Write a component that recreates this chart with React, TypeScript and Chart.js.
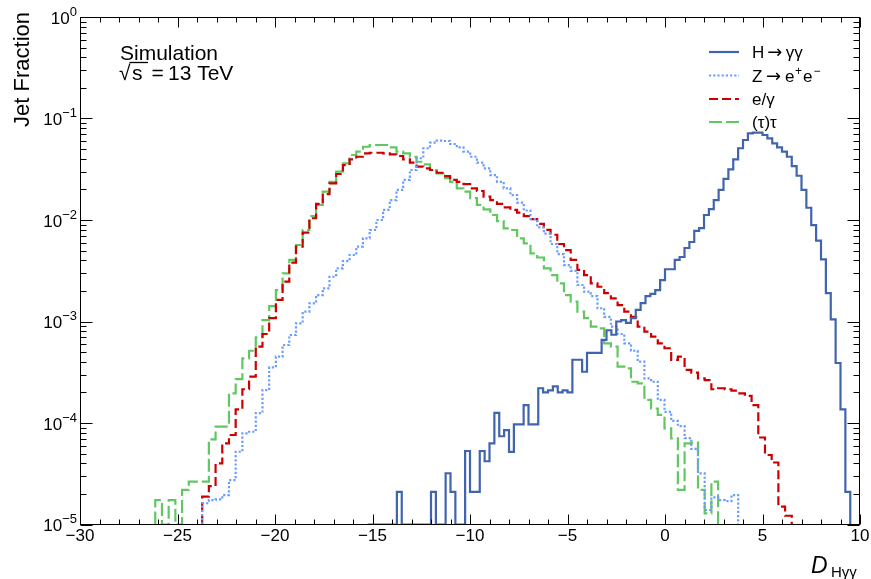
import React, { useEffect, useRef } from "react";
import { Chart, registerables } from "chart.js";

Chart.register(...registerables);

// ---------- axes ----------
const X_MIN = -30;
const X_MAX = 10;
const Y_MIN = 1e-5;
const Y_MAX = 1;
const X_TICK_VALUES = [-30, -25, -20, -15, -10, -5, 0, 5, 10];
const Y_DECADE_EXPONENTS = [0, -1, -2, -3, -4, -5];

// ---------- series ----------
const SERIES_LABELS = ["H → γγ", "Z → e⁺e⁻", "e/γ", "(τ)τ"];

// H -> gamma gamma (solid), bins of 0.25 starting at -15.25
const H_START = -15.25;
const H_WIDTH = 0.25;
const H_VALUES = [
  0, 0, 0, 0, 0, 0, 2.1e-5, 0, 0, 0, 0, 0, 0, 2.1e-5, 0, 0, 3.2e-5, 2.1e-5, 0, 0,
  5.3e-5, 2.1e-5, 2.1e-5, 5.3e-5, 4.2e-5, 6.3e-5, 1.26e-4, 7.4e-5, 8.5e-5, 5.2e-5,
  9.7e-5, 9.7e-5, 1.5e-4, 9.7e-5, 9.7e-5, 2.2e-4, 2.0e-4, 2.1e-4, 2.3e-4, 2.0e-4,
  2.1e-4, 2.0e-4, 4.2e-4, 4.2e-4, 3.2e-4, 4.9e-4, 4.9e-4, 4.9e-4, 6.6e-4, 8.2e-4,
  7.4e-4, 1.0e-3, 1.03e-3, 9.7e-4, 1.08e-3, 1.3e-3, 1.52e-3, 1.78e-3, 1.87e-3, 2.04e-3,
  2.56e-3, 3.27e-3, 3.27e-3, 4.04e-3, 4.32e-3, 5.3e-3, 6.07e-3, 7.8e-3, 8.3e-3, 1.12e-2,
  1.28e-2, 1.57e-2, 1.98e-2, 2.54e-2, 3.16e-2, 3.96e-2, 5.09e-2, 6.14e-2, 7.15e-2, 7.25e-2,
  7.25e-2, 6.88e-2, 6.38e-2, 5.7e-2, 5.2e-2, 4.71e-2, 4.2e-2, 3.4e-2, 2.73e-2, 1.98e-2,
  1.32e-2, 8.9e-3, 6.25e-3, 4.1e-3, 1.9e-3, 1.05e-3, 3.9e-4, 1.36e-4, 2.1e-5,
];

// the other three share a binning of width 0.3436
const SHARED_WIDTH = 0.3436;

// Z -> e+ e- (dotted)
const Z_START = -23.735;
const Z_VALUES = [
  1.62e-5, 1.74e-5, 1.77e-5, 1.95e-5, 2.74e-5, 5.21e-5, 7.92e-5, 8.2e-5, 1.25e-4, 2.11e-4,
  3.54e-4, 4.5e-4, 5.87e-4, 7.36e-4, 9.6e-4, 1.25e-3, 1.51e-3, 1.82e-3, 2.12e-3, 2.76e-3,
  3.34e-3, 3.94e-3, 4.52e-3, 5.46e-3, 6.6e-3, 7.97e-3, 1.0e-2, 1.26e-2, 1.57e-2, 1.98e-2,
  2.48e-2, 3.11e-2, 4.06e-2, 5.09e-2, 5.78e-2, 6.04e-2, 6.0e-2, 5.61e-2, 5.2e-2, 4.71e-2,
  4.2e-2, 3.67e-2, 3.23e-2, 2.77e-2, 2.38e-2, 2.05e-2, 1.76e-2, 1.48e-2, 1.24e-2, 1.02e-2,
  8.47e-3, 7.33e-3, 5.8e-3, 4.62e-3, 3.6e-3, 3.16e-3, 2.29e-3, 1.97e-3, 1.78e-3, 1.35e-3,
  1.11e-3, 8.89e-4, 7.53e-4, 6.1e-4, 5.15e-4, 4.02e-4, 2.75e-4, 2.55e-4, 1.69e-4, 1.29e-4,
  1.05e-4, 9.33e-5, 7.11e-5, 5.55e-5, 3.19e-5, 1.39e-5, 1.85e-5, 1.74e-5, 1.7e-5, 1.95e-5,
];

// e/gamma (short dashes)
const EG_START = -23.735;
const EG_VALUES = [
  1.88e-5, 2.39e-5, 4.01e-5, 6.3e-5, 7.62e-5, 1.36e-4, 2.15e-4, 2.86e-4, 5.65e-4, 7.53e-4,
  1.08e-3, 1.63e-3, 2.47e-3, 3.8e-3, 5.46e-3, 7.5e-3, 1.04e-2, 1.44e-2, 1.8e-2, 2.3e-2,
  2.84e-2, 3.48e-2, 3.96e-2, 4.2e-2, 4.54e-2, 4.6e-2, 4.6e-2, 4.54e-2, 4.44e-2, 4.27e-2,
  3.96e-2, 3.67e-2, 3.35e-2, 3.23e-2, 3.11e-2, 2.92e-2, 2.71e-2, 2.48e-2, 2.38e-2, 2.26e-2,
  2.05e-2, 1.93e-2, 1.7e-2, 1.57e-2, 1.44e-2, 1.33e-2, 1.26e-2, 1.18e-2, 1.09e-2, 1.02e-2,
  9.14e-3, 8.0e-3, 7.16e-3, 5.8e-3, 5.06e-3, 4.04e-3, 3.22e-3, 2.87e-3, 2.38e-3, 2.2e-3,
  1.9e-3, 1.69e-3, 1.45e-3, 1.25e-3, 1.11e-3, 8.89e-4, 7.94e-4, 7.08e-4, 6.1e-4, 5.45e-4,
  4.18e-4, 4.5e-4, 3.33e-4, 3.13e-4, 2.75e-4, 2.65e-4, 2.15e-4, 2.2e-4, 2.15e-4, 2.08e-4,
  1.96e-4, 1.85e-4, 1.5e-4, 7.2e-5, 4.84e-5, 4.08e-5, 1.5e-5, 1.22e-5,
];

// (tau) tau (long dashes)
const TAU_START = -26.14;
const TAU_VALUES = [
  1.74e-5, 0, 1.74e-5, 0, 2.19e-5, 2.64e-5, 2.64e-5, 2.64e-5, 6.9e-5, 9.2e-5,
  9.2e-5, 1.96e-4, 2.7e-4, 4.34e-4, 5.15e-4, 6.99e-4, 1.03e-3, 1.42e-3, 2.04e-3, 2.98e-3,
  4.04e-3, 5.67e-3, 7.97e-3, 1.09e-2, 1.41e-2, 1.9e-2, 2.38e-2, 2.99e-2, 3.62e-2, 4.37e-2,
  4.71e-2, 5.27e-2, 5.48e-2, 5.48e-2, 5.48e-2, 5.2e-2, 4.71e-2, 4.54e-2, 4.2e-2, 3.75e-2,
  3.54e-2, 3.11e-2, 2.88e-2, 2.58e-2, 2.38e-2, 2.05e-2, 1.9e-2, 1.64e-2, 1.41e-2, 1.27e-2,
  1.12e-2, 9.77e-3, 8.28e-3, 7.97e-3, 6.6e-3, 5.89e-3, 4.7e-3, 4.27e-3, 3.34e-3, 2.87e-3,
  2.38e-3, 1.82e-3, 1.57e-3, 1.25e-3, 1.08e-3, 8.89e-4, 8.57e-4, 6.1e-4, 5.65e-4, 3.59e-4,
  3.46e-4, 2.55e-4, 2.46e-4, 1.69e-4, 1.39e-4, 1.2e-4, 8.87e-5, 7.06e-5, 2.19e-5, 6.3e-5,
  6.4e-5, 2.19e-5, 1.29e-5, 2.64e-5,
];

// ---------- styles ----------
const COLORS = ["#4064ae", "#6b9dff", "#cc0000", "#62c662"];
const DASHES: number[][] = [[], [2.2, 2], [9, 4], [13, 4]];
const FONT = '"Liberation Sans", Arial, Helvetica, sans-serif';
const ARROW_FONT = '"DejaVu Sans", sans-serif';

// ---------- helpers ----------
function histPoints(start: number, width: number, values: number[]) {
  const floor = (v: number) => (v > 0 ? v : Y_MIN);
  const pts: { x: number; y: number }[] = [{ x: start, y: Y_MIN }];
  values.forEach((v, i) => pts.push({ x: start + i * width, y: floor(v) }));
  const end = start + values.length * width;
  pts.push({ x: end, y: floor(values[values.length - 1]) });
  pts.push({ x: end, y: Y_MIN });
  return pts;
}

type Seg = { t: string; sup?: boolean; arrow?: boolean; gap?: number };
const LEGEND_RICH: Seg[][] = [
  [{ t: "H" }, { t: "→", arrow: true, gap: 3 }, { t: "γγ", gap: 3.5 }],
  [{ t: "Z" }, { t: "→", arrow: true, gap: 3.5 }, { t: "e", gap: 4 }, { t: "+", sup: true, gap: 0.5 }, { t: "e", gap: 1 }, { t: "−", sup: true, gap: 1 }],
  [{ t: "e/γ" }],
  [{ t: "(τ)τ" }],
];

const decorPlugin = {
  id: "decor",
  afterDraw(chart: any) {
    const ctx: CanvasRenderingContext2D = chart.ctx;
    const { left, right, top, bottom } = chart.chartArea;
    const xs = chart.scales.x;
    const ys = chart.scales.y;
    ctx.save();
    ctx.strokeStyle = "#000";
    ctx.fillStyle = "#000";
    ctx.lineWidth = 1;
    ctx.setLineDash([]);

    // frame
    const L = Math.round(left) + 0.5;
    const R = Math.round(right) - 0.5;
    const T = Math.round(top) + 0.5;
    const B = Math.round(bottom) - 0.5;
    ctx.strokeRect(L, T, R - L, B - T);

    // x ticks
    ctx.beginPath();
    for (let v = X_MIN; v <= X_MAX; v++) {
      const px = Math.round(xs.getPixelForValue(v)) + 0.5;
      const len = v % 5 === 0 ? 10 : 5;
      ctx.moveTo(px, B);
      ctx.lineTo(px, B - len);
      ctx.moveTo(px, T);
      ctx.lineTo(px, T + len);
    }
    // y ticks
    for (const e of Y_DECADE_EXPONENTS) {
      for (let m = 1; m <= 9; m++) {
        if (e === 0 && m > 1) continue;
        const v = m * Math.pow(10, e);
        const py = Math.round(ys.getPixelForValue(v)) + 0.5;
        const len = m === 1 ? 12 : 6;
        ctx.moveTo(L, py);
        ctx.lineTo(L + len, py);
        ctx.moveTo(R, py);
        ctx.lineTo(R - len, py);
      }
    }
    ctx.stroke();

    // x tick labels
    ctx.font = `17px ${FONT}`;
    ctx.textAlign = "center";
    ctx.textBaseline = "alphabetic";
    for (const v of X_TICK_VALUES) {
      const px = xs.getPixelForValue(v);
      const txt = v < 0 ? "\u2212" + Math.abs(v) : String(v);
      ctx.fillText(txt, px, 541);
    }

    // y tick labels 10^e
    ctx.textAlign = "left";
    for (const e of Y_DECADE_EXPONENTS) {
      const py = ys.getPixelForValue(Math.pow(10, e));
      const exp = e === 0 ? "0" : "\u2212" + Math.abs(e);
      ctx.font = `17px ${FONT}`;
      const wBase = ctx.measureText("10").width;
      ctx.font = `13px ${FONT}`;
      const wExp = ctx.measureText(exp).width;
      const x0 = 77 - wBase - wExp;
      ctx.font = `17px ${FONT}`;
      ctx.fillText("10", x0, py + 6.5);
      ctx.font = `13px ${FONT}`;
      ctx.fillText(exp, x0 + wBase, py - 1.5);
    }

    // y title
    ctx.save();
    ctx.translate(29, 12);
    ctx.rotate(-Math.PI / 2);
    ctx.font = `22px ${FONT}`;
    ctx.textAlign = "right";
    ctx.fillText("Jet Fraction", 0, 0);
    ctx.restore();

    // x title D_{Hγγ}
    ctx.textAlign = "left";
    ctx.font = `italic 23px ${FONT}`;
    ctx.fillText("D", 811, 573);
    ctx.font = `15px ${FONT}`;
    ctx.fillText("Hγγ", 831, 577);

    // Simulation / sqrt(s) = 13 TeV
    ctx.font = `21px ${FONT}`;
    ctx.fillText("Simulation", 120, 59.5);
    ctx.fillText("√", 119, 80);
    ctx.fillText("s", 132, 80);
    ctx.beginPath();
    ctx.lineWidth = 1.3;
    ctx.moveTo(129.5, 62.5);
    ctx.lineTo(148, 62.5);
    ctx.stroke();
    ctx.fillText("=", 151.5, 80);
    ctx.fillText("13 TeV", 168, 80);

    // legend
    const rows = [52, 75.5, 99, 122];
    chart.data.datasets.forEach((ds: any, i: number) => {
      const y = rows[i];
      ctx.save();
      ctx.strokeStyle = ds.borderColor;
      ctx.lineWidth = ds.borderWidth;
      ctx.setLineDash(ds.borderDash || []);
      ctx.beginPath();
      ctx.moveTo(709, y);
      ctx.lineTo(739, y);
      ctx.stroke();
      ctx.restore();
      let x = 752;
      for (const seg of LEGEND_RICH[i]) {
        x += seg.gap || 0;
        if (seg.sup) {
          ctx.font = `12px ${FONT}`;
          ctx.fillText(seg.t, x, y - 1);
        } else if (seg.arrow) {
          ctx.font = `18px ${ARROW_FONT}`;
          ctx.fillText(seg.t, x, y + 6);
        } else {
          ctx.font = `17px ${FONT}`;
          ctx.fillText(seg.t, x, y + 6);
        }
        x += ctx.measureText(seg.t).width;
      }
    });

    ctx.restore();
  },
};

export default function App() {
  const ref = useRef<HTMLCanvasElement>(null);
  useEffect(() => {
    const canvas = ref.current;
    if (!canvas) return;
    const mk = (i: number, start: number, width: number, values: number[]) => ({
      label: SERIES_LABELS[i],
      data: histPoints(start, width, values),
      borderColor: COLORS[i],
      borderWidth: 2.2,
      borderDash: DASHES[i],
      stepped: true,
      fill: false,
      pointRadius: 0,
      pointHitRadius: 0,
      tension: 0,
    });
    const chart = new Chart(canvas, {
      type: "line",
      data: {
        datasets: [
          mk(0, H_START, H_WIDTH, H_VALUES),
          mk(1, Z_START, SHARED_WIDTH, Z_VALUES),
          mk(2, EG_START, SHARED_WIDTH, EG_VALUES),
          mk(3, TAU_START, SHARED_WIDTH, TAU_VALUES),
        ],
      },
      options: {
        animation: false,
        responsive: false,
        devicePixelRatio: 1,
        layout: { padding: { left: 80, right: 11, top: 17, bottom: 54.5 } },
        scales: {
          x: { type: "linear", min: X_MIN, max: X_MAX, display: false },
          y: { type: "logarithmic", min: Y_MIN, max: Y_MAX, display: false },
        },
        plugins: { legend: { display: false }, tooltip: { enabled: false } },
        events: [],
      } as any,
      plugins: [decorPlugin],
    });
    return () => chart.destroy();
  }, []);
  return (
    <div style={{ position: "fixed", left: 0, top: 0, width: 871, height: 579, background: "#fff" }}>
      <canvas ref={ref} width={871} height={579} style={{ display: "block", width: 871, height: 579 }} />
    </div>
  );
}
